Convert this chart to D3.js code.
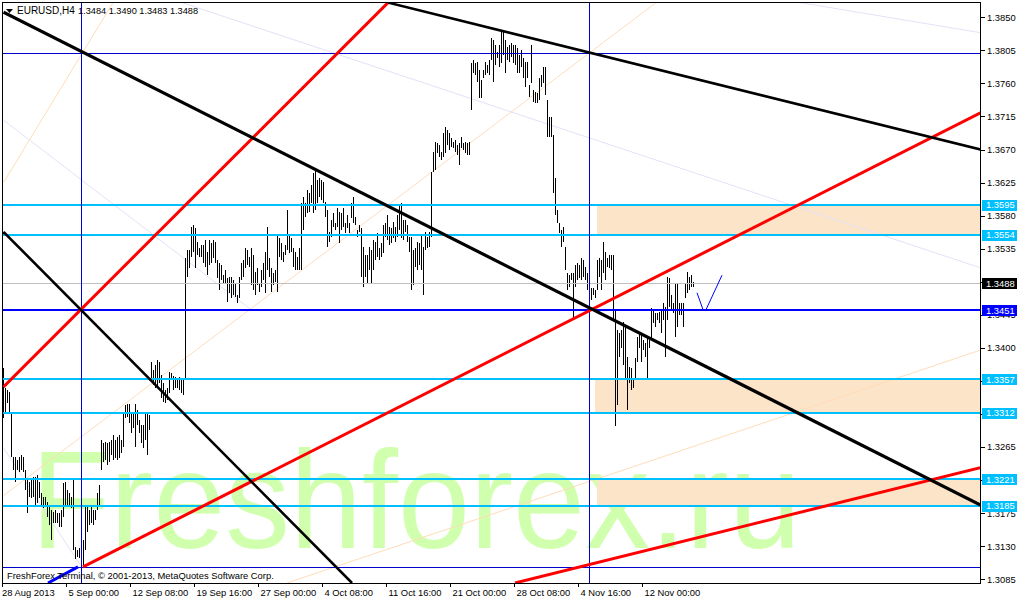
<!DOCTYPE html>
<html><head><meta charset="utf-8">
<script src="https://cdn.jsdelivr.net/npm/d3@7"></script>
<style>html,body{margin:0;padding:0;background:#fff;overflow:hidden}svg{display:block}</style>
</head><body>
<svg id="chart" width="1020" height="601"></svg>
<script>
// ---- data (EURUSD H4, bar highs / lows) ----
const highs = [
1.3373,1.3346,1.3343,1.3340,1.3313,1.3252,1.3252,1.3248,1.3252,1.3254,
1.3252,1.3234,1.3223,1.3218,1.3223,1.3224,1.3224,1.3227,1.3218,1.3203,
1.3197,1.3197,1.3190,1.3184,1.3180,1.3177,1.3180,1.3175,1.3175,1.3180,
1.3216,1.3218,1.3207,1.3203,1.3197,1.3220,1.3129,1.3125,1.3128,1.3129,
1.3139,1.3184,1.3186,1.3180,1.3184,1.3180,1.3180,1.3203,1.3214,1.3275,
1.3271,1.3272,1.3271,1.3272,1.3275,1.3282,1.3275,1.3279,1.3282,1.3275,
1.3312,1.3322,1.3324,1.3324,1.3312,1.3312,1.3324,1.3316,1.3302,1.3295,
1.3295,1.3313,1.3312,1.3309,1.3381,1.3370,1.3377,1.3384,1.3381,1.3363,
1.3352,1.3343,1.3346,1.3367,1.3366,1.3362,1.3360,1.3359,1.3360,1.3359,
1.3356,1.3522,1.3533,1.3533,1.3565,1.3567,1.3563,1.3544,1.3536,1.3540,
1.3540,1.3547,1.3531,1.3547,1.3543,1.3547,1.3544,1.3520,1.3516,1.3513,
1.3499,1.3506,1.3495,1.3497,1.3497,1.3493,1.3488,1.3472,1.3497,1.3516,
1.3520,1.3536,1.3533,1.3524,1.3536,1.3527,1.3503,1.3509,1.3488,1.3506,
1.3516,1.3531,1.3565,1.3522,1.3509,1.3502,1.3506,1.3554,1.3550,1.3543,
1.3531,1.3540,1.3588,1.3554,1.3550,1.3536,1.3531,1.3524,1.3536,1.3597,
1.3605,1.3597,1.3615,1.3611,1.3622,1.3638,1.3642,1.3629,1.3631,1.3629,
1.3626,1.3599,1.3588,1.3558,1.3574,1.3584,1.3570,1.3591,1.3585,1.3584,
1.3591,1.3570,1.3581,1.3570,1.3597,1.3605,1.3578,1.3561,1.3567,1.3563,
1.3538,1.3527,1.3527,1.3538,1.3533,1.3547,1.3544,1.3557,1.3536,1.3543,
1.3567,1.3570,1.3581,1.3565,1.3563,1.3572,1.3565,1.3581,1.3595,1.3597,
1.3574,1.3574,1.3567,1.3551,1.3551,1.3533,1.3536,1.3544,1.3543,1.3554,
1.3538,1.3558,1.3551,1.3558,1.3640,1.3667,1.3680,1.3679,1.3676,1.3667,
1.3693,1.3701,1.3697,1.3693,1.3686,1.3680,1.3683,1.3676,1.3679,1.3687,
1.3679,1.3680,1.3679,1.3680,1.3788,1.3792,1.3788,1.3789,1.3778,1.3765,
1.3778,1.3789,1.3785,1.3792,1.3822,1.3819,1.3812,1.3803,1.3812,1.3833,
1.3833,1.3819,1.3810,1.3812,1.3815,1.3812,1.3812,1.3808,1.3799,1.3806,
1.3795,1.3789,1.3789,1.3758,1.3812,1.3751,1.3748,1.3747,1.3767,1.3772,
1.3782,1.3782,1.3738,1.3714,1.3714,1.3690,1.3631,1.3588,1.3570,1.3561,
1.3565,1.3538,1.3502,1.3499,1.3502,1.3502,1.3513,1.3516,1.3513,1.3522,
1.3520,1.3510,1.3502,1.3502,1.3482,1.3482,1.3479,1.3520,1.3522,1.3520,
1.3544,1.3531,1.3522,1.3527,1.3527,1.3527,1.3452,1.3425,1.3420,1.3425,
1.3435,1.3431,1.3388,1.3374,1.3373,1.3356,1.3386,1.3415,1.3420,1.3420,
1.3411,1.3407,1.3415,1.3411,1.3454,1.3452,1.3448,1.3448,1.3449,1.3452,
1.3461,1.3456,1.3497,1.3495,1.3472,1.3461,1.3488,1.3488,1.3461,1.3461,
1.3461,1.3488,1.3503,1.3497,1.3499,1.3490
];
const lows = [
1.3305,1.3313,1.3325,1.3313,1.3252,1.3234,1.3218,1.3234,1.3231,1.3234,
1.3231,1.3207,1.3175,1.3197,1.3196,1.3197,1.3184,1.3189,1.3196,1.3184,
1.3182,1.3184,1.3170,1.3159,1.3139,1.3162,1.3162,1.3162,1.3156,1.3156,
1.3170,1.3184,1.3184,1.3186,1.3182,1.3125,1.3112,1.3116,1.3114,1.3107,
1.3105,1.3125,1.3150,1.3159,1.3162,1.3159,1.3166,1.3180,1.3186,1.3234,
1.3245,1.3248,1.3241,1.3244,1.3254,1.3248,1.3250,1.3248,1.3250,1.3257,
1.3265,1.3305,1.3306,1.3298,1.3284,1.3291,1.3265,1.3295,1.3284,1.3271,
1.3264,1.3275,1.3254,1.3288,1.3354,1.3350,1.3346,1.3346,1.3352,1.3332,
1.3327,1.3325,1.3329,1.3339,1.3356,1.3343,1.3346,1.3346,1.3343,1.3339,
1.3336,1.3356,1.3497,1.3509,1.3524,1.3531,1.3509,1.3527,1.3524,1.3524,
1.3516,1.3510,1.3499,1.3513,1.3516,1.3522,1.3516,1.3495,1.3479,1.3493,
1.3488,1.3488,1.3463,1.3475,1.3468,1.3472,1.3469,1.3461,1.3468,1.3493,
1.3497,1.3509,1.3513,1.3510,1.3486,1.3479,1.3472,1.3486,1.3476,1.3483,
1.3493,1.3475,1.3506,1.3497,1.3476,1.3486,1.3490,1.3476,1.3524,1.3520,
1.3517,1.3527,1.3533,1.3529,1.3531,1.3510,1.3506,1.3506,1.3506,1.3506,
1.3561,1.3578,1.3584,1.3585,1.3597,1.3584,1.3588,1.3597,1.3605,1.3601,
1.3597,1.3578,1.3538,1.3544,1.3551,1.3565,1.3561,1.3565,1.3543,1.3561,
1.3565,1.3557,1.3563,1.3557,1.3577,1.3570,1.3567,1.3551,1.3558,1.3497,
1.3483,1.3497,1.3488,1.3506,1.3488,1.3506,1.3520,1.3524,1.3520,1.3524,
1.3529,1.3551,1.3547,1.3540,1.3543,1.3550,1.3544,1.3551,1.3561,1.3550,
1.3547,1.3558,1.3544,1.3531,1.3479,1.3486,1.3510,1.3506,1.3513,1.3506,
1.3472,1.3533,1.3536,1.3538,1.3551,1.3640,1.3642,1.3665,1.3660,1.3656,
1.3660,1.3665,1.3676,1.3669,1.3674,1.3672,1.3667,1.3663,1.3649,1.3672,
1.3669,1.3665,1.3663,1.3663,1.3724,1.3774,1.3772,1.3762,1.3740,1.3740,
1.3767,1.3772,1.3774,1.3772,1.3792,1.3762,1.3785,1.3795,1.3782,1.3788,
1.3799,1.3774,1.3792,1.3789,1.3796,1.3788,1.3785,1.3774,1.3774,1.3782,
1.3767,1.3755,1.3767,1.3742,1.3761,1.3735,1.3733,1.3733,1.3738,1.3755,
1.3761,1.3744,1.3687,1.3687,1.3687,1.3611,1.3581,1.3570,1.3557,1.3538,
1.3544,1.3506,1.3479,1.3483,1.3493,1.3438,1.3483,1.3493,1.3495,1.3493,
1.3497,1.3493,1.3479,1.3483,1.3465,1.3472,1.3468,1.3479,1.3497,1.3479,
1.3502,1.3493,1.3510,1.3509,1.3506,1.3438,1.3293,1.3322,1.3388,1.3400,
1.3377,1.3359,1.3316,1.3352,1.3343,1.3346,1.3356,1.3381,1.3400,1.3381,
1.3397,1.3388,1.3359,1.3400,1.3411,1.3434,1.3429,1.3438,1.3434,1.3420,
1.3438,1.3388,1.3438,1.3456,1.3452,1.3448,1.3415,1.3429,1.3445,1.3445,
1.3429,1.3468,1.3475,1.3479,1.3483,1.3483
];
const dateLabels = ["28 Aug 2013","5 Sep 00:00","12 Sep 08:00","19 Sep 16:00","27 Sep 00:00","4 Oct 08:00","11 Oct 16:00","21 Oct 00:00","28 Oct 08:00","4 Nov 16:00","12 Nov 00:00"];
const dateLabelBars = [0,32,64,96,128,160,192,224,256,288,320];
const priceTicks = [1.3850,1.3805,1.3760,1.3715,1.3670,1.3625,1.3580,1.3535,1.3490,1.3445,1.3400,1.3355,1.3310,1.3265,1.3220,1.3175,1.3130,1.3085];
// tick labels that are fully covered by level labels in the terminal are not drawn
const hiddenTickLabels = [1.3490,1.3355,1.3310,1.3220];
const cyanLevels = [1.3595,1.3554,1.3357,1.3312,1.3221,1.3185];
const keyLevel = 1.3451;
const lastPrice = 1.3488;
const titleSymbol = "EURUSD,H4";
const titleQuotes = [1.3484,1.3490,1.3483,1.3488];
const copyrightText = "FreshForex Terminal, \u00A9 2001-2013, MetaQuotes Software Corp.";
const watermarkText = "Freshforex.ru";
// zones: [upper price, lower price, starting bar]
const zones = [[1.3595,1.3554,296.75],[1.3357,1.3312,295.75],[1.3221,1.3185,296.75]];
// trend lines: [[bar, price],[bar, price]]
const redLines = [[[0,1.3347],[192.25,1.3870]],[[39.75,1.3102],[488.5,1.3720]],[[255.75,1.3080],[488.5,1.3237]]];
const blackLines = [[[0,1.3857],[488.5,1.3186]],[[0,1.3558],[174.25,1.3080]],[[192.25,1.3870],[488.5,1.3670]]];
const blueTrend = [[22.25,1.3080],[37.25,1.3102]];
const peachLines = [[[0,1.3199],[326.25,1.3870]],[[0,1.3625],[54.75,1.3870]],[[141.75,1.3080],[488.5,1.3397]]];
const lavenderLines = [[[0,1.3710],[124.25,1.3451]],[[0,1.3264],[38.25,1.3105]],[[89.25,1.3870],[488.5,1.3509]],[[398.25,1.3870],[488.5,1.3829]]];
const crossBars = [39,293];
const crossPrices = [1.3801,1.3102];
const handPath = [[346.75,1.3475],[349.75,1.3452],[351.25,1.3452],[359.25,1.3499]];

// ---- drawing ----
const W = 1020, H = 601;
const P = {left:3, top:3, right:980, bottom:583};
const lastBar = 488.5;
const x = d3.scaleLinear().domain([0, highs.length - 1]).range([3.5, 3.5 + 2*(highs.length - 1)]);
const y = d3.scaleLinear().domain([1.3085, 1.3850]).range([579.3, 17.3]);
const FONT = "'Liberation Sans', Arial, sans-serif";

const svg = d3.select('#chart');
svg.append('rect').attr('width', W).attr('height', H).attr('fill', '#fff');
svg.append('defs').append('clipPath').attr('id', 'clip')
  .append('rect').attr('x', P.left).attr('y', P.top).attr('width', P.right - P.left).attr('height', P.bottom - P.top);
const g = svg.append('g').attr('clip-path', 'url(#clip)');

// watermark
g.append('text').attr('x', 31).attr('y', 548)
  .attr('font-family', FONT).attr('font-size', 140)
  .attr('textLength', 770).attr('lengthAdjust', 'spacingAndGlyphs')
  .attr('fill', '#d0ffae').text(watermarkText);

// zones
g.selectAll('rect.zone').data(zones).join('rect').attr('class', 'zone')
  .attr('x', d => x(d[2])).attr('width', d => x(lastBar) - x(d[2]))
  .attr('y', d => y(d[0])).attr('height', d => y(d[1]) - y(d[0]))
  .attr('fill', '#fce4c8');

const line = d3.line().x(d => x(d[0])).y(d => y(d[1]));

// thin helper lines
g.selectAll('path.peach').data(peachLines).join('path').attr('class', 'peach')
  .attr('d', line).attr('stroke', '#ffdcb8').attr('stroke-width', 1).attr('fill', 'none');
g.selectAll('path.lav').data(lavenderLines).join('path').attr('class', 'lav')
  .attr('d', line).attr('stroke', '#e2e2f6').attr('stroke-width', 1).attr('fill', 'none');

// bars
g.selectAll('line.bar').data(highs).join('line').attr('class', 'bar')
  .attr('x1', (d, i) => x(i)).attr('x2', (d, i) => x(i))
  .attr('y1', d => Math.round(y(d)))
  .attr('y2', (d, i) => Math.max(Math.round(y(lows[i])), Math.round(y(d)) + 2))
  .attr('stroke', '#000').attr('stroke-width', 1).attr('shape-rendering', 'crispEdges');

// last price line
g.append('line').attr('x1', P.left).attr('x2', P.right)
  .attr('y1', Math.round(y(lastPrice)) + 0.5).attr('y2', Math.round(y(lastPrice)) + 0.5)
  .attr('stroke', '#c0c0c0').attr('stroke-width', 1).attr('shape-rendering', 'crispEdges');

// cyan levels
g.selectAll('line.cyan').data(cyanLevels).join('line').attr('class', 'cyan')
  .attr('x1', P.left).attr('x2', P.right)
  .attr('y1', d => Math.round(y(d))).attr('y2', d => Math.round(y(d)))
  .attr('stroke', '#00bfff').attr('stroke-width', 2).attr('shape-rendering', 'crispEdges');
// key level
g.append('line').attr('x1', P.left).attr('x2', P.right)
  .attr('y1', Math.round(y(keyLevel))).attr('y2', Math.round(y(keyLevel)))
  .attr('stroke', '#0000ff').attr('stroke-width', 2).attr('shape-rendering', 'crispEdges');

// cross lines
g.selectAll('line.vcross').data(crossBars).join('line').attr('class', 'vcross')
  .attr('x1', d => Math.floor(x(d)) + 0.5).attr('x2', d => Math.floor(x(d)) + 0.5)
  .attr('y1', P.top).attr('y2', P.bottom)
  .attr('stroke', '#0000cc').attr('stroke-width', 1).attr('shape-rendering', 'crispEdges');
g.selectAll('line.hcross').data(crossPrices).join('line').attr('class', 'hcross')
  .attr('x1', P.left).attr('x2', P.right)
  .attr('y1', d => Math.round(y(d)) + 0.5).attr('y2', d => Math.round(y(d)) + 0.5)
  .attr('stroke', '#0000cc').attr('stroke-width', 1).attr('shape-rendering', 'crispEdges');

// copyright text
svg.append('text').attr('x', 7).attr('y', 579).attr('font-family', FONT).attr('font-size', 9.4)
  .attr('fill', '#000').text(copyrightText);

// trend lines
g.selectAll('path.red').data(redLines).join('path').attr('class', 'red')
  .attr('d', line).attr('stroke', '#ff0000').attr('stroke-width', 3).attr('fill', 'none');
g.selectAll('path.black').data(blackLines).join('path').attr('class', 'black')
  .attr('d', line).attr('stroke', '#000').attr('stroke-width', (d, i) => i === 0 ? 3.2 : 2.6).attr('fill', 'none');
g.append('path').datum(blueTrend).attr('d', line).attr('stroke', '#0000ff').attr('stroke-width', 3).attr('fill', 'none');
g.append('path').datum(handPath).attr('d', line).attr('stroke', '#0000ff').attr('stroke-width', 1).attr('fill', 'none');

// frame
svg.append('rect').attr('x', 2.5).attr('y', 2.5).attr('width', 978).attr('height', 581)
  .attr('fill', 'none').attr('stroke', '#000').attr('stroke-width', 1).attr('shape-rendering', 'crispEdges');

// right axis
const ra = svg.append('g');
ra.selectAll('line.tk').data(priceTicks).join('line').attr('class', 'tk')
  .attr('x1', 981).attr('x2', 985)
  .attr('y1', d => Math.round(y(d)) + 0.5).attr('y2', d => Math.round(y(d)) + 0.5)
  .attr('stroke', '#000').attr('shape-rendering', 'crispEdges');
ra.selectAll('text.tk').data(priceTicks.filter(t => !hiddenTickLabels.includes(t))).join('text').attr('class', 'tk')
  .attr('x', 987).attr('y', d => y(d) + 3.4)
  .attr('font-family', FONT).attr('font-size', 9.4).attr('fill', '#000')
  .text(d => d.toFixed(4));

function priceBox(p, fill) {
  const cy = y(p);
  ra.append('rect').attr('x', 982).attr('y', Math.round(cy) - 5).attr('width', 35).attr('height', 11).attr('fill', fill);
  ra.append('text').attr('x', 986).attr('y', cy + 3.4)
    .attr('font-family', FONT).attr('font-size', 9.4).attr('fill', '#fff').text(p.toFixed(4));
}
cyanLevels.forEach(p => priceBox(p, '#00bfff'));
priceBox(keyLevel, '#0000ff');
priceBox(lastPrice, '#000000');

// bottom axis
const ba = svg.append('g');
ba.selectAll('line.dt').data(dateLabelBars).join('line').attr('class', 'dt')
  .attr('x1', d => Math.floor(x(d)) + 0.5 - 1).attr('x2', d => Math.floor(x(d)) + 0.5 - 1)
  .attr('y1', 584).attr('y2', 587).attr('stroke', '#000').attr('shape-rendering', 'crispEdges');
ba.selectAll('text.dt').data(dateLabels).join('text').attr('class', 'dt')
  .attr('x', (d, i) => i === 0 ? 2 : x(dateLabelBars[i]) + 1).attr('y', 596)
  .attr('font-family', FONT).attr('font-size', 9.4).attr('fill', '#000').text(d => d);

// title
svg.append('path').attr('d', 'M6,9 L13,9 L9.5,13 Z').attr('fill', '#000');
const title = svg.append('text').attr('y', 14.3).attr('font-family', FONT).attr('fill', '#000');
title.append('tspan').attr('x', 17).attr('font-size', 10).text(titleSymbol);
title.append('tspan').attr('x', 78).attr('font-size', 9.2).text(titleQuotes.map(v => v.toFixed(4)).join(' '));
</script>
</body></html>
